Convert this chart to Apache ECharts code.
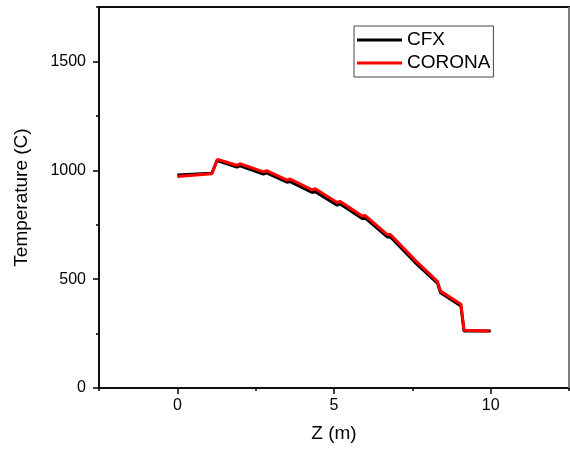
<!DOCTYPE html>
<html>
<head>
  <meta charset="utf-8" />
  <title>Temperature along Z</title>
  <script src="https://cdn.jsdelivr.net/npm/echarts@6/dist/echarts.min.js"></script>
  <style>
    html, body { margin: 0; padding: 0; background: #fff; }
    #main { width: 570px; height: 450px; }
  </style>
</head>
<body>
<div id="main"></div>
<script>
  // data
  let cfxZ = [0, 1.1, 1.27, 1.9, 2.0, 2.75, 2.85, 3.5, 3.6, 4.3, 4.4, 5.1, 5.2, 5.9, 6.0, 6.7, 6.8, 7.6, 8.3, 8.4, 9.05, 9.15, 10.0]
  let cfxT = [978, 986, 1045, 1015, 1020, 983, 988, 945, 948, 898, 902, 840, 845, 778, 780, 694, 694, 575, 482, 437, 377, 262, 262]

  let coronaZ = [0, 1.1, 1.28, 1.9, 2.0, 2.75, 2.85, 3.5, 3.6, 4.3, 4.4, 5.1, 5.2, 5.9, 6.0, 6.7, 6.8, 7.6, 8.3, 8.4, 9.05, 9.15, 9.95]
  let coronaT = [972, 984, 1050, 1023, 1030, 993, 998, 955, 960, 910, 915, 852, 857, 790, 792, 705, 705, 585, 490, 445, 385, 265, 262]

  let xMajorTicks = [0, 5, 10]
  let yMajorTicks = [0, 500, 1000, 1500]

  let fontFamily = 'Liberation Sans, Arial, sans-serif'
  let axisColor = '#000'

  let gridLeft = 99
  let gridRight = 1
  let gridTop = 7
  let gridBottom = 62
  let gridW = 570 - gridLeft - gridRight
  let gridH = 450 - gridTop - gridBottom

  function pairs(xs, ys) {
    return xs.map((x, i) => [x, ys[i]])
  }

  let chart = echarts.init(document.getElementById('main'))

  let option = {
    animation: false,
    backgroundColor: '#fff',
    textStyle: { fontFamily: fontFamily },
    grid: {
      left: gridLeft, right: gridRight, top: gridTop, bottom: gridBottom,
      outerBoundsMode: 'none',
      show: true, borderColor: '#000', borderWidth: 1.5, backgroundColor: '#fff'
    },
    // top and right edges of the plot frame
    graphic: [
      {
        type: 'line', z: 100, silent: true,
        shape: { x1: gridLeft, y1: gridTop, x2: gridLeft + gridW + 1, y2: gridTop },
        style: { stroke: '#000', lineWidth: 1.5 }
      },
      {
        type: 'line', z: 100, silent: true,
        shape: { x1: gridLeft + gridW, y1: gridTop, x2: gridLeft + gridW, y2: gridTop + gridH },
        style: { stroke: '#bbb', lineWidth: 1 }
      }
    ],
    legend: {
      left: 354,
      top: 26,
      orient: 'vertical',
      icon: 'rect',
      itemWidth: 45,
      itemHeight: 3,
      itemGap: 3,
      padding: [4, 3, 4, 3],
      borderColor: '#444',
      borderWidth: 1,
      textStyle: { fontSize: 19, color: '#000', lineHeight: 20, fontFamily: fontFamily },
      data: ['CFX', 'CORONA']
    },
    xAxis: [
      {
        type: 'value', min: -2.5, max: 12.5, interval: 2.5,
        position: 'bottom',
        name: 'Z (m)', nameLocation: 'middle', nameGap: 36,
        nameTextStyle: { fontSize: 19, color: '#000', fontFamily: fontFamily },
        splitLine: { show: false },
        axisLine: { onZero: false, lineStyle: { color: axisColor, width: 1.5 } },
        axisTick: { length: 6, customValues: xMajorTicks, lineStyle: { color: axisColor, width: 1.5 } },
        axisLabel: {
          fontSize: 16, color: '#000', margin: 10,
          formatter: v => (v % 5 === 0 ? String(v) : '')
        }
      },
      {
        // short minor ticks: a top axis shifted down onto the bottom edge
        type: 'value', min: -2.5, max: 12.5, interval: 2.5,
        position: 'top', offset: -gridH,
        splitLine: { show: false },
        axisLine: { show: false, onZero: false },
        axisTick: { inside: true, length: 3, lineStyle: { color: axisColor, width: 1.5 } },
        axisLabel: { show: false }
      }
    ],
    yAxis: [
      {
        type: 'value', min: 0, max: 1750, interval: 250,
        position: 'left',
        name: 'Temperature (C)', nameLocation: 'middle', nameGap: 68,
        nameTextStyle: { fontSize: 19, color: '#000', fontFamily: fontFamily },
        splitLine: { show: false },
        axisLine: { show: true, onZero: false, lineStyle: { color: axisColor, width: 1.5 } },
        axisTick: { show: true, length: 6, customValues: yMajorTicks, lineStyle: { color: axisColor, width: 1.5 } },
        axisLabel: {
          fontSize: 16, color: '#000', margin: 13,
          formatter: v => (v % 500 === 0 ? String(v) : '')
        }
      },
      {
        // short minor ticks: a right axis shifted onto the left edge
        type: 'value', min: 0, max: 1750, interval: 250,
        position: 'right', offset: -gridW,
        splitLine: { show: false },
        axisLine: { show: false, onZero: false },
        axisTick: { show: true, inside: true, length: 3, lineStyle: { color: axisColor, width: 1.5 } },
        axisLabel: { show: false }
      }
    ],
    series: [
      {
        name: 'CFX', type: 'line', showSymbol: false, symbol: 'none',
        xAxisIndex: 0, yAxisIndex: 0,
        data: pairs(cfxZ, cfxT),
        itemStyle: { color: '#000' },
        lineStyle: { color: '#000', width: 3 }
      },
      {
        name: 'CORONA', type: 'line', showSymbol: false, symbol: 'none',
        xAxisIndex: 0, yAxisIndex: 0,
        data: pairs(coronaZ, coronaT),
        itemStyle: { color: '#ff0000' },
        lineStyle: { color: '#ff0000', width: 3 }
      }
    ]
  }

  chart.setOption(option)
</script>
</body>
</html>
